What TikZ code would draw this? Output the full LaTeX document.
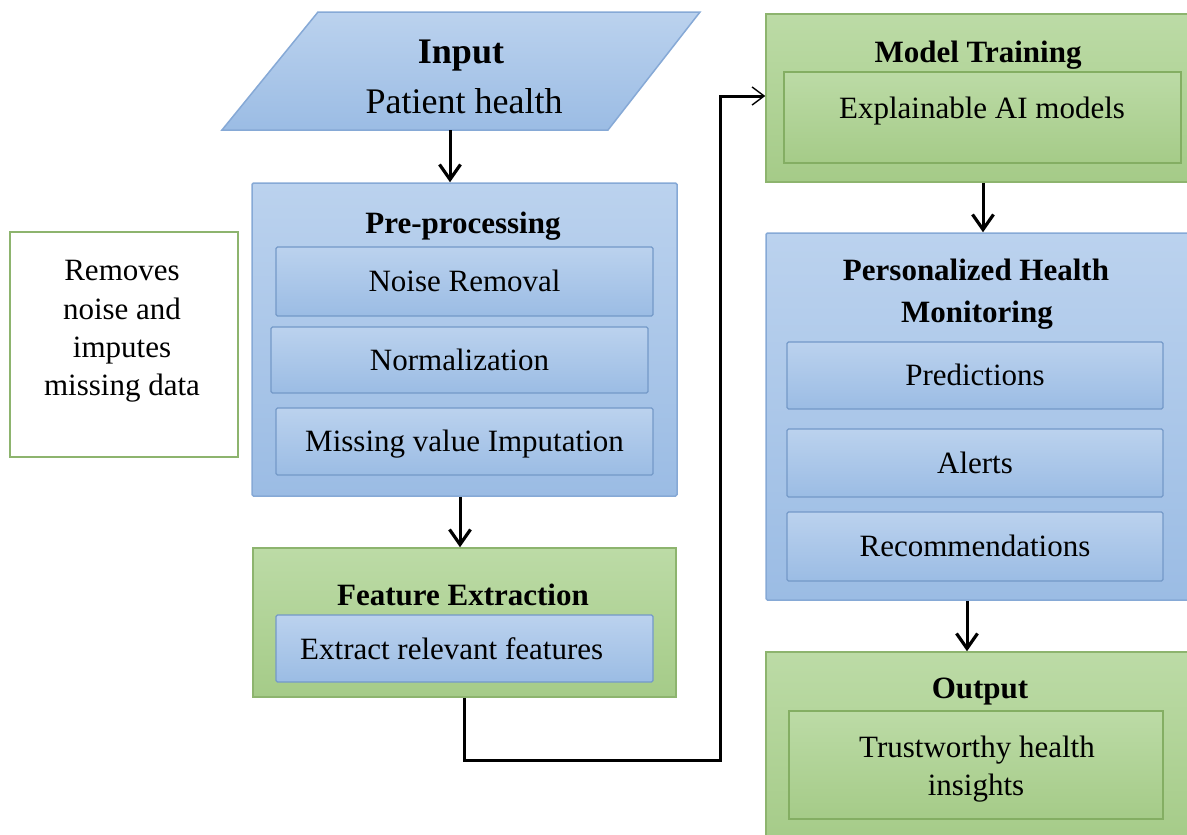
\documentclass[tikz,border=0pt]{standalone}
\usepackage{fontspec}
\setmainfont{Liberation Serif}
\usetikzlibrary{arrows.meta}

\definecolor{blueTop}{HTML}{BBD2EE}
\definecolor{blueBot}{HTML}{9BBCE4}
\definecolor{blueEdge}{HTML}{86A9D6}
\definecolor{innerEdge}{HTML}{7499C8}
\definecolor{greenTop}{HTML}{BCDBA6}
\definecolor{greenBot}{HTML}{A5CB88}
\definecolor{greenEdge}{HTML}{8DB46E}
\definecolor{innerGreenEdge}{HTML}{84AE63}

\newcommand\dgfont{\fontsize{31}{37}\selectfont}
\newcommand\dgbig{\fontsize{36}{42}\selectfont}

\tikzset{
  bluebox/.style={draw=blueEdge, line width=1.5pt, top color=blueTop, bottom color=blueBot,
    rounded corners=1.5pt, inner sep=0pt},
  greenbox/.style={draw=greenEdge, line width=1.5pt, top color=greenTop, bottom color=greenBot,
    inner sep=0pt},
  innerblue/.style={draw=innerEdge, line width=1.2pt, top color=blueTop, bottom color=blueBot,
    rounded corners=1.5pt, inner sep=0pt, font=\dgfont, text height=20.5pt, text depth=0pt},
  innergreen/.style={draw=innerGreenEdge, line width=1.2pt, top color=greenTop, bottom color=greenBot,
    inner sep=0pt},
  notebox/.style={draw=greenEdge, line width=1.5pt, fill=white, inner sep=0pt},
  boxsize/.style 2 args={minimum width=#1pt, minimum height=#2pt},
  title/.style={font=\dgfont\bfseries, anchor=base, inner sep=0pt},
  plain/.style={font=\dgfont, anchor=base, inner sep=0pt},
  flow/.style={line width=3pt, -{Straight Barb[length=15pt, width=21pt, line width=3.2pt]}},
  link/.style={line width=3pt, -{Straight Barb[length=12pt, width=18pt, line width=1.4pt]}},
}

\begin{document}
\begin{tikzpicture}[x=1pt, y=-1pt]
  \useasboundingbox (0,0) rectangle (1187,835);
  \clip (0,0) rectangle (1187,835);
  \fill[white] (0,0) rectangle (1187,835);

  % input parallelogram
  \coordinate (inTL) at (318,12);
  \coordinate (inTR) at (700,12);
  \coordinate (inBR) at (608,130);
  \coordinate (inBL) at (222,130);
  \coordinate (inbot) at (450,130);
  \shade[top color=blueTop, bottom color=blueBot, draw=blueEdge, line width=1.5pt]
    (inTL) -- (inTR) -- (inBR) -- (inBL) -- cycle;
  \node[title, font=\dgbig\bfseries] (inTitle) at (461,63) {Input};
  \node[plain, font=\dgbig] (inText) at (464,113) {Patient health};

  % side note
  \node[notebox, boxsize={228}{225}] (note) at (124,344.5) {};
  \node[plain] (note1) at (122,280) {Removes};
  \node[plain] (note2) at (122,319) {noise and};
  \node[plain] (note3) at (122,357) {imputes};
  \node[plain] (note4) at (122,395) {missing data};

  % pre-processing
  \node[bluebox, boxsize={425}{313}] (pre) at (464.5,339.5) {};
  \node[title] (preTitle) at (463,233) {Pre-processing};
  \node[innerblue, boxsize={377}{69}] (noise) at (464.5,281.5) {Noise Removal};
  \node[innerblue, boxsize={377}{66}] (norm) at (459.5,360) {Normalization};
  \node[innerblue, boxsize={377}{67}] (miss) at (464.5,441.5) {Missing value Imputation};

  % feature extraction
  \node[greenbox, boxsize={423}{149}] (fe) at (464.5,622.5) {};
  \node[title] (feTitle) at (463,605) {Feature Extraction};
  \node[innerblue, boxsize={377}{67}] (feIn) at (464.5,648.5) {};
  \node[plain, anchor=base west] (feText) at (300,659) {Extract relevant features};

  % model training
  \node[greenbox, boxsize={426}{168}] (mt) at (979,98) {};
  \node[title] (mtTitle) at (978,62) {Model Training};
  \node[innergreen, boxsize={397}{91}] (mtIn) at (982.5,117.5) {};
  \node[plain] (mtText) at (982,118) {Explainable AI models};

  % personalized health monitoring
  \node[bluebox, boxsize={426}{367}] (phm) at (979,416.5) {};
  \node[title] (phmTitle1) at (976,280) {Personalized Health};
  \node[title] (phmTitle2) at (977,322) {Monitoring};
  \node[innerblue, boxsize={376}{67}] (pred) at (975,375.5) {Predictions};
  \node[innerblue, boxsize={376}{68}] (alert) at (975,463) {Alerts};
  \node[innerblue, boxsize={376}{69}] (rec) at (975,546.5) {Recommendations};

  % output
  \node[greenbox, boxsize={426}{193}] (out) at (979,748.5) {};
  \node[title] (outTitle) at (980,698) {Output};
  \node[innergreen, boxsize={374}{108}] (outIn) at (976,765) {};
  \node[plain] (outText1) at (977,757) {Trustworthy health};
  \node[plain] (outText2) at (976,795) {insights};

  % connectors
  \coordinate (low) at (720,760);
  \draw[flow] (inbot) -- (inbot |- pre.north);
  \draw[flow] ([xshift=-4.5pt]pre.south) -- ([xshift=-4.5pt]fe.north);
  \draw[link] (fe.south) |- (low) |- ([yshift=2pt]mt.west);
  \draw[flow] ([xshift=4pt]mt.south) -- ([xshift=4pt]phm.north);
  \draw[flow] ([xshift=-12pt]phm.south) -- ([xshift=-12pt]out.north);
\end{tikzpicture}
\end{document}
